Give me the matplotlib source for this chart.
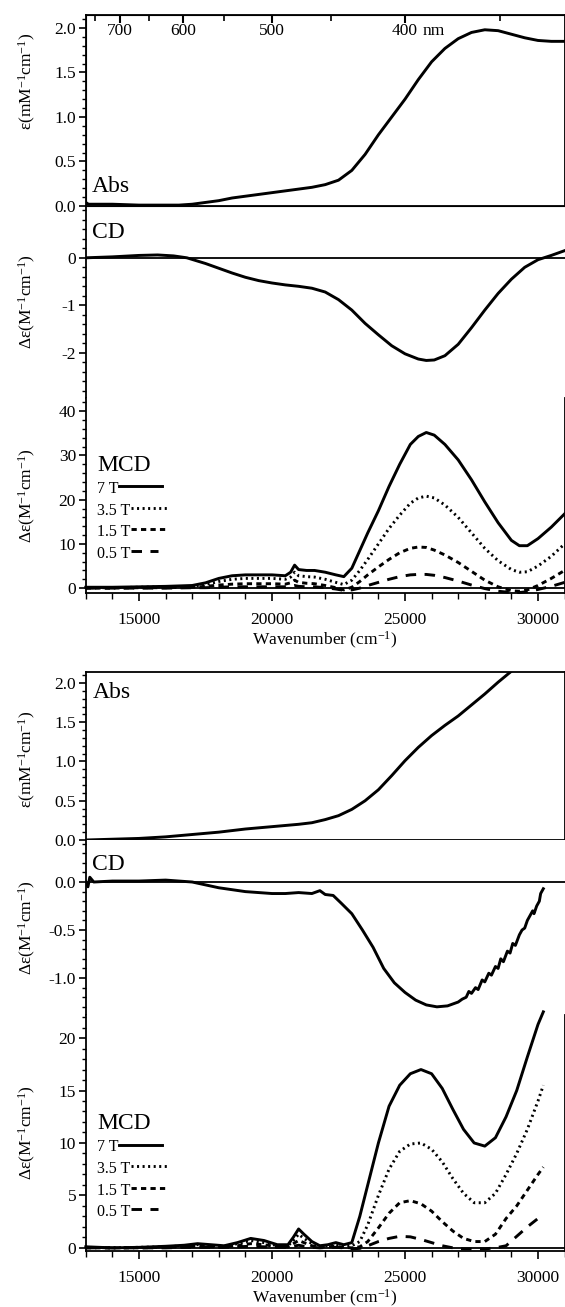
import numpy as np
import matplotlib.pyplot as plt
from matplotlib.ticker import MultipleLocator, FixedLocator, FormatStrFormatter
from matplotlib.offsetbox import TextArea, DrawingArea, HPacker, VPacker, AnchoredOffsetbox
from matplotlib.lines import Line2D

plt.rcParams['font.family'] = ['Liberation Serif', 'DejaVu Serif']
plt.rcParams['mathtext.fontset'] = 'custom'
plt.rcParams['mathtext.rm'] = 'Liberation Serif'
plt.rcParams['mathtext.default'] = 'regular'
plt.rcParams['axes.unicode_minus'] = False

# ---- upper complex ----
x_abs1 = [13000, 13100, 13500, 14000, 15000, 16000, 16500, 17000, 17500, 18000, 18500, 19000,
          19500, 20000, 20500, 21000, 21500, 22000, 22500, 23000, 23500, 24000, 24500, 25000,
          25500, 26000, 26500, 27000, 27500, 28000, 28500, 29000, 29500, 30000, 30500, 31000]
abs1 = [0.04, 0.02, 0.02, 0.02, 0.01, 0.01, 0.01, 0.02, 0.04, 0.06, 0.09, 0.11,
        0.13, 0.15, 0.17, 0.19, 0.21, 0.24, 0.29, 0.40, 0.58, 0.80, 1.00, 1.20,
        1.42, 1.62, 1.77, 1.88, 1.95, 1.98, 1.97, 1.93, 1.89, 1.86, 1.85, 1.85]

x_cd1 = [13000, 14000, 15000, 15700, 16300, 16800, 17500, 18000, 18500, 19000, 19500, 20000,
         20500, 21000, 21500, 22000, 22500, 23000, 23500, 24000, 24500, 25000, 25500, 25800,
         26100, 26500, 27000, 27500, 28000, 28500, 29000, 29500, 30000, 30500, 31000]
cd1 = [0.0, 0.02, 0.05, 0.06, 0.04, 0.0, -0.12, -0.22, -0.32, -0.41, -0.48, -0.53,
       -0.57, -0.6, -0.64, -0.72, -0.88, -1.1, -1.38, -1.62, -1.85, -2.02, -2.13, -2.16,
       -2.15, -2.06, -1.82, -1.47, -1.1, -0.75, -0.45, -0.2, -0.04, 0.05, 0.15]

x_mcd1 = [13000, 14000, 15000, 16000, 17000, 17500, 18000, 18500, 19000, 19500, 20000, 20500,
          20700, 20850, 21000, 21300, 21600, 22000, 22400, 22700, 23000, 23300, 23600, 24000,
          24400, 24800, 25200, 25500, 25800, 26100, 26500, 27000, 27500, 28000, 28500, 29000,
          29300, 29600, 30000, 30500, 31000]
mcd1_7T = [0.2, 0.2, 0.3, 0.4, 0.6, 1.2, 2.2, 2.8, 3.0, 3.0, 3.0, 2.8,
           3.6, 5.2, 4.2, 4.0, 4.0, 3.6, 3.0, 2.6, 4.5, 8.5, 12.5, 17.5,
           23.0, 28.0, 32.5, 34.3, 35.2, 34.6, 32.5, 29.0, 24.5, 19.5, 14.8, 10.8,
           9.6, 9.6, 11.2, 13.8, 16.8]
mcd1_35T = [0.1, 0.1, 0.2, 0.3, 0.4, 0.8, 1.5, 2.0, 2.2, 2.2, 2.2, 2.0,
            2.5, 3.6, 2.8, 2.6, 2.5, 2.0, 1.3, 0.8, 1.8, 4.0, 6.5, 10.0,
            13.5, 16.5, 19.2, 20.4, 20.8, 20.4, 18.8, 16.0, 12.5, 9.0, 6.2, 4.2,
            3.6, 3.7, 5.0, 7.2, 10.0]
mcd1_15T = [0.0, 0.0, 0.1, 0.1, 0.2, 0.4, 0.7, 0.9, 1.0, 1.0, 1.0, 0.9,
            1.2, 1.8, 1.3, 1.1, 1.0, 0.6, 0.1, -0.4, 0.2, 1.5, 3.0, 4.8,
            6.5, 8.0, 9.0, 9.3, 9.2, 8.6, 7.5, 5.8, 3.8, 1.8, 0.3, -0.6,
            -0.7, -0.4, 0.6, 2.2, 4.0]
mcd1_05T = [0.0, 0.0, 0.0, 0.0, 0.1, 0.1, 0.2, 0.3, 0.3, 0.3, 0.3, 0.3,
            0.4, 0.6, 0.4, 0.3, 0.3, 0.1, -0.2, -0.5, -0.4, 0.0, 0.6, 1.3,
            2.0, 2.6, 3.0, 3.1, 3.1, 2.9, 2.4, 1.6, 0.7, -0.1, -0.7, -1.0,
            -1.0, -0.8, -0.3, 0.4, 1.3]

# ---- lower complex ----
x_abs2 = [13000, 14000, 15000, 16000, 17000, 18000, 19000, 20000, 21000, 21500, 22000, 22500,
          23000, 23500, 24000, 24500, 25000, 25500, 26000, 26500, 27000, 27500, 28000, 28500,
          29000, 29300]
abs2 = [0.0, 0.01, 0.02, 0.04, 0.07, 0.10, 0.14, 0.17, 0.20, 0.22, 0.26, 0.31,
        0.39, 0.50, 0.64, 0.82, 1.01, 1.18, 1.33, 1.46, 1.58, 1.72, 1.86, 2.01,
        2.15, 2.25]

x_cd2 = [13000, 13080, 13150, 13300, 14000, 15000, 16000, 17000, 17500, 18000, 18500, 19000,
         19500, 20000, 20500, 21000, 21500, 21800, 22000, 22300, 22600, 23000, 23400, 23800,
         24200, 24600, 25000, 25400, 25800, 26200, 26600, 27000, 27150, 27300, 27400, 27500,
         27650, 27750, 27900, 28000, 28150, 28250, 28400, 28500, 28600, 28700, 28850, 28950,
         29050, 29150, 29300, 29400, 29500, 29600, 29700, 29800, 29850, 29950, 30050, 30100,
         30200]
cd2 = [0.0, -0.05, 0.05, 0.0, 0.01, 0.01, 0.02, 0.0, -0.03, -0.06, -0.08, -0.1,
       -0.11, -0.12, -0.12, -0.11, -0.12, -0.09, -0.13, -0.14, -0.22, -0.33, -0.5, -0.68,
       -0.9, -1.05, -1.15, -1.23, -1.28, -1.3, -1.29, -1.25, -1.22, -1.2, -1.14, -1.16,
       -1.1, -1.12, -1.02, -1.04, -0.95, -0.97, -0.88, -0.9, -0.8, -0.83, -0.72, -0.74,
       -0.64, -0.66, -0.55, -0.5, -0.48, -0.4, -0.35, -0.3, -0.33, -0.25, -0.2, -0.12,
       -0.07]

x_mcd2 = [13000, 14000, 15000, 16000, 16700, 17200, 17700, 18200, 18700, 19200, 19700, 20200,
          20600, 20800, 21000, 21200, 21500, 21800, 22100, 22400, 22700, 23000, 23300, 23600,
          24000, 24400, 24800, 25200, 25600, 26000, 26400, 26800, 27200, 27600, 28000, 28400,
          28800, 29200, 29600, 30000, 30200]
mcd2_7T = [0.1, 0.0, 0.05, 0.15, 0.25, 0.4, 0.3, 0.2, 0.5, 0.9, 0.7, 0.3,
           0.3, 1.0, 1.8, 1.3, 0.6, 0.2, 0.3, 0.5, 0.3, 0.5, 3.0, 6.0,
           10.0, 13.5, 15.5, 16.6, 17.0, 16.6, 15.2, 13.2, 11.3, 10.0, 9.7, 10.5,
           12.5, 15.0, 18.2, 21.3, 22.5]
mcd2_35T = [0.05, 0.0, 0.05, 0.1, 0.2, 0.3, 0.2, 0.15, 0.4, 0.7, 0.5, 0.2,
            0.2, 0.7, 1.3, 0.9, 0.4, 0.15, 0.2, 0.3, 0.15, 0.2, 0.6, 2.2,
            5.0, 7.5, 9.2, 9.9, 10.0, 9.4, 8.2, 6.6, 5.2, 4.3, 4.3, 5.2,
            7.0, 9.0, 11.3, 14.0, 15.5]
mcd2_15T = [0.0, 0.0, 0.0, 0.05, 0.1, 0.15, 0.1, 0.1, 0.2, 0.4, 0.3, 0.1,
            0.1, 0.4, 0.7, 0.5, 0.2, 0.1, 0.1, 0.15, 0.05, 0.0, 0.1, 0.6,
            1.9, 3.3, 4.3, 4.5, 4.2, 3.5, 2.5, 1.6, 0.9, 0.6, 0.6, 1.3,
            2.8, 4.0, 5.5, 7.0, 7.7]
mcd2_05T = [0.0, 0.0, 0.0, 0.0, 0.05, 0.05, 0.05, 0.05, 0.1, 0.15, 0.1, 0.05,
            0.05, 0.15, 0.25, 0.15, 0.05, 0.0, 0.05, 0.05, 0.0, -0.1, -0.05, 0.2,
            0.6, 0.9, 1.1, 1.05, 0.8, 0.5, 0.2, 0.0, -0.1, -0.1, -0.1, 0.0,
            0.2, 1.1, 2.0, 2.8, 3.1]

field_labels = ['7 T', '3.5 T', '1.5 T', '0.5 T']
field_styles = ['-', (0, (0.7, 1.2)), (0, (1.8, 1.45)), (0, (3.6, 2.9))]
field_len = [31, 28, 25, 20]
nm_major = [700, 600, 500, 400]
nm_minor = [750, 650, 550, 450, 350]

W, H = 565, 1307
X0, X1 = 85.8, 564.6
LW = 2.1

fig = plt.figure(figsize=(W / 100, H / 100), dpi=100)


def box(top, bot):
    return [X0 / W, 1 - bot / H, (X1 - X0) / W, (bot - top) / H]


def left_ticks(ax, major, minor, fmt):
    ax.yaxis.set_major_locator(FixedLocator(major))
    ax.yaxis.set_minor_locator(MultipleLocator(minor))
    ax.yaxis.set_major_formatter(FormatStrFormatter(fmt))
    ax.tick_params(axis='y', which='major', direction='out', length=5, width=1.2, labelsize=12.5, pad=2)
    ax.tick_params(axis='y', which='minor', direction='out', length=3, width=1.0)
    ax.tick_params(axis='y', right=False, which='both')


def mcd_key(ax, anchor):
    rows = [TextArea('MCD', textprops=dict(fontsize=17))]
    for lab, ls, ln in zip(field_labels, field_styles, field_len):
        da = DrawingArea(ln, 8, 0, 0)
        da.add_artist(Line2D([0, ln], [5, 5], color='k', lw=LW, ls=ls))
        rows.append(HPacker(children=[TextArea(lab, textprops=dict(fontsize=11.5)), da],
                            align='baseline', pad=0, sep=0))
    vb = VPacker(children=rows, align='left', pad=0, sep=4)
    ab = AnchoredOffsetbox(loc='upper left', child=vb, bbox_to_anchor=anchor,
                           bbox_transform=ax.transAxes, frameon=False, pad=0, borderpad=0)
    ax.add_artist(ab)


def draw_set(rows, xa, ya, xc, yc, xm, ym_list, lims, cd_major, cd_minor, cd_fmt,
             mcd_major, mcd_minor, abs_text_pos, abs_lab_y, key_anchor):
    a1 = fig.add_axes(box(rows[0], rows[1]))
    a2 = fig.add_axes(box(rows[1], rows[2]), sharex=a1)
    a3 = fig.add_axes(box(rows[2], rows[3]), sharex=a1)

    a1.plot(xa, ya, color='k', lw=LW)
    a1.set_xlim(13000, 31000)
    a1.set_ylim(*lims[0])
    left_ticks(a1, [0.0, 0.5, 1.0, 1.5, 2.0], 0.1, '%.1f')
    a1.tick_params(axis='x', which='both', bottom=False, top=False, labelbottom=False)
    for s in a1.spines.values():
        s.set_linewidth(1.3)
    a1.set_ylabel('ε(mM$^{-1}$cm$^{-1}$)', fontsize=12.5)
    a1.yaxis.set_label_coords(-0.10, abs_lab_y)
    a1.text(abs_text_pos[0], abs_text_pos[1], 'Abs', transform=a1.transAxes, fontsize=17,
            va=abs_text_pos[2])

    a2.plot(xc, yc, color='k', lw=LW)
    a2.axhline(0, color='k', lw=1.3)
    a2.set_ylim(*lims[1])
    left_ticks(a2, cd_major, cd_minor, cd_fmt)
    a2.tick_params(axis='x', which='both', bottom=False, top=False, labelbottom=False)
    for k in ['top', 'bottom', 'right']:
        a2.spines[k].set_visible(False)
    a2.spines['left'].set_linewidth(1.3)
    a2.set_ylabel('Δε(M$^{-1}$cm$^{-1}$)', fontsize=12.5)
    a2.yaxis.set_label_coords(-0.10, 0.5)
    a2.text(0.012, 0.86, 'CD', transform=a2.transAxes, fontsize=17, va='center')

    for ym, ls in zip(ym_list, field_styles):
        a3.plot(xm, ym, color='k', lw=LW, ls=ls, clip_on=False)
    a3.axhline(0, color='k', lw=1.3)
    a3.set_ylim(*lims[2])
    left_ticks(a3, mcd_major, mcd_minor, '%d')
    a3.spines['top'].set_visible(False)
    for k in ['left', 'bottom', 'right']:
        a3.spines[k].set_linewidth(1.3)
    a3.xaxis.set_major_locator(MultipleLocator(5000))
    a3.xaxis.set_minor_locator(MultipleLocator(1000))
    a3.tick_params(axis='x', which='major', direction='out', length=6, width=1.2,
                   labelsize=12.5, pad=8)
    a3.tick_params(axis='x', which='minor', direction='out', length=4, width=1.0)
    a3.set_xlabel('Wavenumber (cm$^{-1}$)', fontsize=12.5, labelpad=1)
    a3.set_ylabel('Δε(M$^{-1}$cm$^{-1}$)', fontsize=12.5)
    a3.yaxis.set_label_coords(-0.10, 0.5)
    mcd_key(a3, key_anchor)
    return a1, a2, a3


t1, t2, t3 = draw_set([15, 206, 398, 593], x_abs1, abs1, x_cd1, cd1, x_mcd1,
                      [mcd1_7T, mcd1_35T, mcd1_15T, mcd1_05T],
                      [(0, 2.146), (-2.95, 1.09), (-1.1, 43.0)],
                      [-2, -1, 0], 0.2, '%d', [0, 10, 20, 30, 40], 2,
                      (0.012, 0.045, 'bottom'), 0.65, (0.024, 0.71))

# wavelength scale on the top of the first absorption panel
nm_ax = t1.twiny()
nm_ax.set_xlim(t1.get_xlim())
nm_ax.xaxis.set_major_locator(FixedLocator(1e7 / np.array(nm_major)))
nm_ax.xaxis.set_minor_locator(FixedLocator(1e7 / np.array(nm_minor)))
nm_ax.set_xticklabels([str(v) for v in nm_major])
nm_ax.tick_params(axis='x', which='major', direction='in', length=6, width=1.5, labelsize=12.5, pad=-17)
nm_ax.tick_params(axis='x', which='minor', direction='in', length=4, width=1.2)
nm_ax.annotate('nm', xy=(1e7 / nm_major[-1], 1), xycoords=('data', 'axes fraction'),
               xytext=(13, -17), textcoords='offset points', ha='left', va='bottom', fontsize=12.5)

draw_set([672, 840, 1015, 1251], x_abs2, abs2, x_cd2, cd2, x_mcd2,
         [mcd2_7T, mcd2_35T, mcd2_15T, mcd2_05T],
         [(0, 2.14), (-1.385, 0.4375), (-0.3, 22.2)],
         [-1.0, -0.5, 0.0], 0.1, '%.1f', [0, 5, 10, 15, 20], 1,
         (0.014, 0.875, 'center'), 0.48, (0.024, 0.585))

fig.savefig('out.png', dpi=100)
